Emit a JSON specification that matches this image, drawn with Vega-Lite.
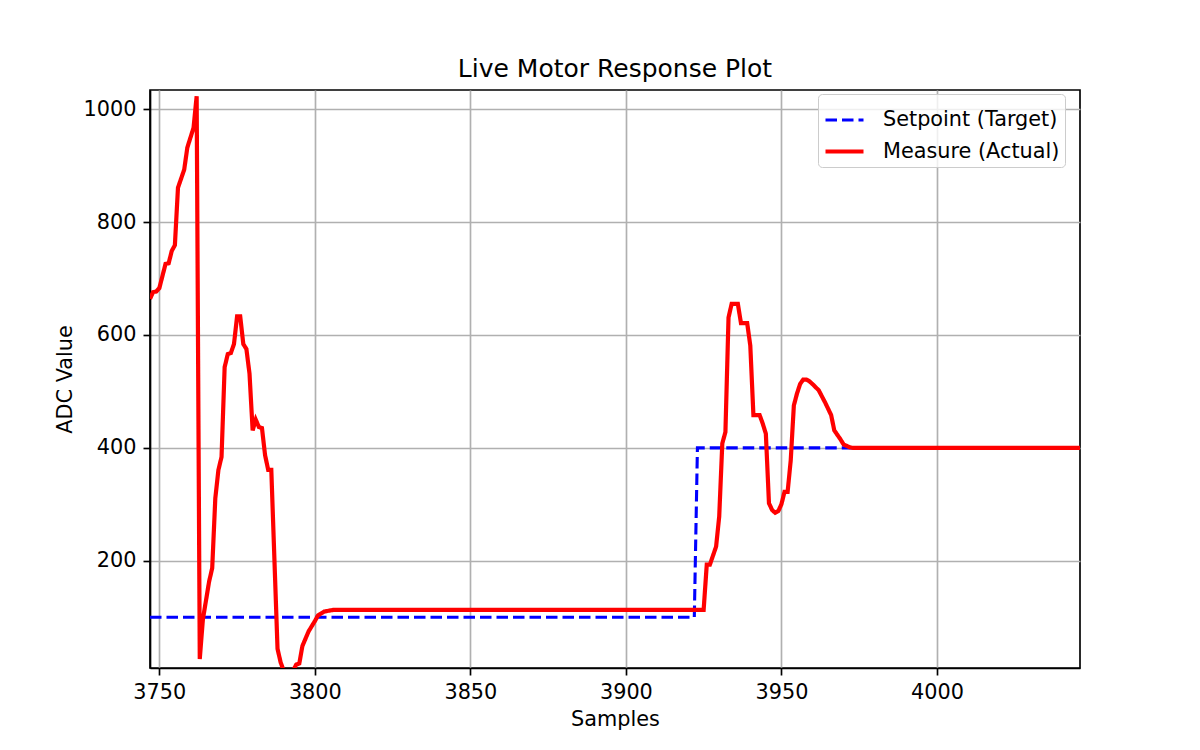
{
  "$schema": "https://vega.github.io/schema/vega-lite/v6.json",
  "width": 930,
  "height": 578,
  "autosize": {"type": "none"},
  "padding": {"left": 150, "top": 90, "right": 120, "bottom": 82},
  "title": {
    "text": "Live Motor Response Plot",
    "fontSize": 25,
    "fontWeight": "normal",
    "font": "DejaVu Sans",
    "color": "black",
    "anchor": "middle",
    "baseline": "alphabetic",
    "offset": 14,
    "dy": 26
  },
  "encoding": {
    "x": {
      "field": "sample",
      "type": "quantitative",
      "title": "Samples",
      "scale": {"domain": [3747, 4046], "nice": false, "zero": false},
      "axis": {"values": [3750, 3800, 3850, 3900, 3950, 4000], "format": "d"}
    },
    "y": {
      "field": "adc",
      "type": "quantitative",
      "title": "ADC Value",
      "scale": {"domain": [10, 1034], "nice": false, "zero": false},
      "axis": {"values": [200, 400, 600, 800, 1000], "format": "d"}
    },
    "color": {
      "field": "series",
      "type": "nominal",
      "title": null,
      "scale": {"domain": ["Setpoint (Target)", "Measure (Actual)"], "range": ["#0000ff", "#ff0000"]}
    },
    "strokeDash": {
      "field": "series",
      "type": "nominal",
      "title": null,
      "scale": {"domain": ["Setpoint (Target)", "Measure (Actual)"], "range": [[11.5, 5], [1, 0]]}
    },
    "strokeWidth": {
      "field": "series",
      "type": "nominal",
      "title": null,
      "scale": {"domain": ["Setpoint (Target)", "Measure (Actual)"], "range": [3.1, 4.2]}
    }
  },
  "layer": [
    {
      "data": {
        "values": [
          {"series": "Setpoint (Target)", "sample": 3747, "adc": 100},
          {"series": "Setpoint (Target)", "sample": 3922, "adc": 100},
          {"series": "Setpoint (Target)", "sample": 3923, "adc": 400},
          {"series": "Setpoint (Target)", "sample": 4046, "adc": 400}
        ]
      },
      "mark": {"type": "line", "clip": true}
    },
    {
      "data": {
        "values": [
          {"series": "Measure (Actual)", "sample": 3747, "adc": 664},
          {"series": "Measure (Actual)", "sample": 3748, "adc": 676},
          {"series": "Measure (Actual)", "sample": 3749, "adc": 677},
          {"series": "Measure (Actual)", "sample": 3750, "adc": 683},
          {"series": "Measure (Actual)", "sample": 3752, "adc": 726},
          {"series": "Measure (Actual)", "sample": 3753, "adc": 727},
          {"series": "Measure (Actual)", "sample": 3754, "adc": 749},
          {"series": "Measure (Actual)", "sample": 3755, "adc": 759},
          {"series": "Measure (Actual)", "sample": 3756, "adc": 861},
          {"series": "Measure (Actual)", "sample": 3758, "adc": 893},
          {"series": "Measure (Actual)", "sample": 3759, "adc": 932},
          {"series": "Measure (Actual)", "sample": 3761, "adc": 967},
          {"series": "Measure (Actual)", "sample": 3762, "adc": 1023},
          {"series": "Measure (Actual)", "sample": 3763, "adc": 26},
          {"series": "Measure (Actual)", "sample": 3764, "adc": 96},
          {"series": "Measure (Actual)", "sample": 3766, "adc": 163},
          {"series": "Measure (Actual)", "sample": 3767, "adc": 187},
          {"series": "Measure (Actual)", "sample": 3768, "adc": 311},
          {"series": "Measure (Actual)", "sample": 3769, "adc": 361},
          {"series": "Measure (Actual)", "sample": 3770, "adc": 384},
          {"series": "Measure (Actual)", "sample": 3771, "adc": 543},
          {"series": "Measure (Actual)", "sample": 3772, "adc": 566},
          {"series": "Measure (Actual)", "sample": 3773, "adc": 568},
          {"series": "Measure (Actual)", "sample": 3774, "adc": 584},
          {"series": "Measure (Actual)", "sample": 3775, "adc": 633},
          {"series": "Measure (Actual)", "sample": 3776, "adc": 633},
          {"series": "Measure (Actual)", "sample": 3777, "adc": 584},
          {"series": "Measure (Actual)", "sample": 3778, "adc": 575},
          {"series": "Measure (Actual)", "sample": 3779, "adc": 531},
          {"series": "Measure (Actual)", "sample": 3780, "adc": 431},
          {"series": "Measure (Actual)", "sample": 3781, "adc": 450},
          {"series": "Measure (Actual)", "sample": 3782, "adc": 437},
          {"series": "Measure (Actual)", "sample": 3783, "adc": 435},
          {"series": "Measure (Actual)", "sample": 3784, "adc": 387},
          {"series": "Measure (Actual)", "sample": 3785, "adc": 361},
          {"series": "Measure (Actual)", "sample": 3786, "adc": 361},
          {"series": "Measure (Actual)", "sample": 3788, "adc": 44},
          {"series": "Measure (Actual)", "sample": 3789, "adc": 20},
          {"series": "Measure (Actual)", "sample": 3790, "adc": 5},
          {"series": "Measure (Actual)", "sample": 3793, "adc": 5},
          {"series": "Measure (Actual)", "sample": 3794, "adc": 16},
          {"series": "Measure (Actual)", "sample": 3795, "adc": 18},
          {"series": "Measure (Actual)", "sample": 3796, "adc": 49},
          {"series": "Measure (Actual)", "sample": 3797, "adc": 62},
          {"series": "Measure (Actual)", "sample": 3798, "adc": 75},
          {"series": "Measure (Actual)", "sample": 3800, "adc": 93},
          {"series": "Measure (Actual)", "sample": 3801, "adc": 103},
          {"series": "Measure (Actual)", "sample": 3803, "adc": 110},
          {"series": "Measure (Actual)", "sample": 3806, "adc": 113},
          {"series": "Measure (Actual)", "sample": 3925, "adc": 113},
          {"series": "Measure (Actual)", "sample": 3926, "adc": 193},
          {"series": "Measure (Actual)", "sample": 3927, "adc": 193},
          {"series": "Measure (Actual)", "sample": 3929, "adc": 225},
          {"series": "Measure (Actual)", "sample": 3930, "adc": 278},
          {"series": "Measure (Actual)", "sample": 3931, "adc": 408},
          {"series": "Measure (Actual)", "sample": 3932, "adc": 428},
          {"series": "Measure (Actual)", "sample": 3933, "adc": 631},
          {"series": "Measure (Actual)", "sample": 3934, "adc": 655},
          {"series": "Measure (Actual)", "sample": 3936, "adc": 655},
          {"series": "Measure (Actual)", "sample": 3937, "adc": 621},
          {"series": "Measure (Actual)", "sample": 3939, "adc": 621},
          {"series": "Measure (Actual)", "sample": 3940, "adc": 581},
          {"series": "Measure (Actual)", "sample": 3941, "adc": 458},
          {"series": "Measure (Actual)", "sample": 3943, "adc": 458},
          {"series": "Measure (Actual)", "sample": 3944, "adc": 443},
          {"series": "Measure (Actual)", "sample": 3945, "adc": 425},
          {"series": "Measure (Actual)", "sample": 3946, "adc": 302},
          {"series": "Measure (Actual)", "sample": 3947, "adc": 290},
          {"series": "Measure (Actual)", "sample": 3948, "adc": 285},
          {"series": "Measure (Actual)", "sample": 3949, "adc": 288},
          {"series": "Measure (Actual)", "sample": 3950, "adc": 300},
          {"series": "Measure (Actual)", "sample": 3951, "adc": 322},
          {"series": "Measure (Actual)", "sample": 3952, "adc": 322},
          {"series": "Measure (Actual)", "sample": 3953, "adc": 378},
          {"series": "Measure (Actual)", "sample": 3954, "adc": 475},
          {"series": "Measure (Actual)", "sample": 3955, "adc": 496},
          {"series": "Measure (Actual)", "sample": 3956, "adc": 513},
          {"series": "Measure (Actual)", "sample": 3957, "adc": 521},
          {"series": "Measure (Actual)", "sample": 3958, "adc": 521},
          {"series": "Measure (Actual)", "sample": 3959, "adc": 518},
          {"series": "Measure (Actual)", "sample": 3960, "adc": 513},
          {"series": "Measure (Actual)", "sample": 3962, "adc": 502},
          {"series": "Measure (Actual)", "sample": 3964, "adc": 481},
          {"series": "Measure (Actual)", "sample": 3966, "adc": 458},
          {"series": "Measure (Actual)", "sample": 3967, "adc": 431},
          {"series": "Measure (Actual)", "sample": 3969, "adc": 415},
          {"series": "Measure (Actual)", "sample": 3970, "adc": 406},
          {"series": "Measure (Actual)", "sample": 3972, "adc": 401},
          {"series": "Measure (Actual)", "sample": 3973, "adc": 400},
          {"series": "Measure (Actual)", "sample": 4046, "adc": 400}
        ]
      },
      "mark": {"type": "line", "clip": true}
    }
  ],
  "config": {
    "background": "white",
    "font": "DejaVu Sans",
    "view": {"stroke": "black", "strokeWidth": 1.67},
    "axis": {
      "labelFont": "DejaVu Sans",
      "labelFontSize": 20.8,
      "labelColor": "black",
      "labelPadding": 7,
      "tickSize": 7,
      "tickWidth": 1.67,
      "tickColor": "black",
      "domainColor": "black",
      "domainWidth": 1.67,
      "grid": true,
      "gridColor": "#b0b0b0",
      "gridWidth": 1.67,
      "titleFont": "DejaVu Sans",
      "titleFontSize": 20.8,
      "titleFontWeight": "normal",
      "titleColor": "black",
      "titlePadding": 8,
      "labelFlush": false
    },
    "legend": {
      "orient": "none",
      "legendX": 668,
      "legendY": 4,
      "padding": 5,
      "rowPadding": -12,
      "labelFont": "DejaVu Sans",
      "labelFontSize": 20.8,
      "labelColor": "black",
      "labelOffset": 17,
      "labelLimit": 400,
      "symbolType": "stroke",
      "symbolSize": 1444,
      "strokeColor": "#cccccc",
      "fillColor": "rgba(255,255,255,0.8)",
      "cornerRadius": 4
    }
  }
}
